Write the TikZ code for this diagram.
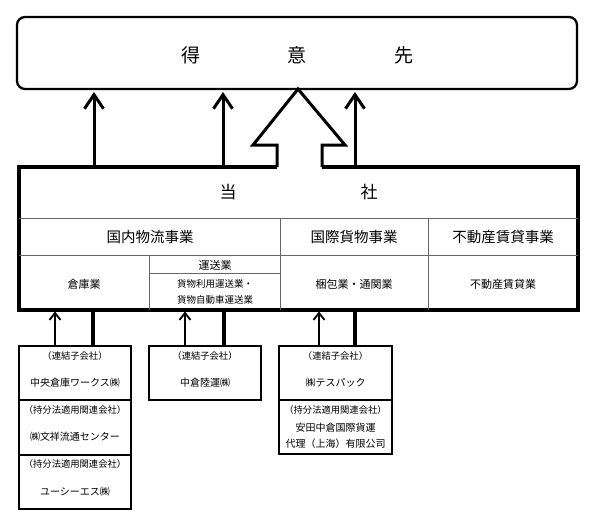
\documentclass[tikz,border=0pt]{standalone}
\usepackage{fontspec}
\setmainfont{Noto Sans CJK JP}
\usetikzlibrary{arrows.meta,calc}
\begin{document}
\begin{tikzpicture}[x=1pt,y=-1pt,
  every node/.style={inner sep=0pt, outer sep=0pt},
  topbox/.style={draw, line width=2.3pt, rounded corners=8pt},
  mainline/.style={line width=3.8pt, line join=miter},
  bigarrow/.style={line width=3pt, line join=miter},
  innerline/.style={line width=0.9pt, draw=black!60},
  uparrow/.style={line width=3pt, -{Straight Barb[length=14pt,width=19pt]}, shorten >=3pt},
  smallarrow/.style={line width=1.8pt, -{Straight Barb[length=7pt,width=11pt]}, shorten >=1.5pt},
  thickline/.style={line width=4.5pt},
  cbox/.style={draw, line width=1.2pt, minimum width=112pt},
  bigtxt/.style={font=\fontsize{19pt}{19pt}\selectfont},
  maintxt/.style={font=\fontsize{17pt}{17pt}\selectfont},
  segtxt/.style={font=\fontsize{14.5pt}{14.5pt}\selectfont},
  subtxt/.style={font=\fontsize{11pt}{11pt}\selectfont},
  smalltxt/.style={font=\fontsize{9.5pt}{9.5pt}\selectfont},
  lbltxt/.style={font=\fontsize{9.3pt}{9.3pt}\selectfont},
  nametxt/.style={font=\fontsize{10pt}{10pt}\selectfont}
]
\useasboundingbox (0,0) rectangle (597,528);

% customer box
\node[topbox, minimum width=560pt, minimum height=72pt] (cust) at (297,53) {};
\node[bigtxt] (c1) at (191,55) {得};
\node[bigtxt] (c2) at (297,55) {意};
\node[bigtxt] (c3) at (404,55) {先};

% main company box (anchor node)
\node[minimum width=559pt, minimum height=143pt] (main) at (298.5,238.5) {};
\draw[mainline] (277,167) -- (main.north west) -- (main.south west) -- (main.south east) -- (main.north east) -- (322,167);
\draw[bigarrow] (277,167) -- (277,145) -- (253,145) -- (cust.south -| 298,0) -- (345,145) -- (322,145) -- (322,167);

% up arrows to customers
\draw[uparrow] (main.north -| 94,0) -- (cust.south -| 94,0);
\draw[uparrow] (main.north -| 223,0) -- (cust.south -| 223,0);
\draw[uparrow] (main.north -| 355,0) -- (cust.south -| 355,0);

\node[maintxt] (m1) at (228,192) {当};
\node[maintxt] (m2) at (369,192) {社};

% inner grid
\draw[innerline] (19,218) -- (578,218);
\draw[innerline] (19,255) -- (578,255);
\draw[innerline] (280,218) -- (280,310);
\draw[innerline] (428.5,218) -- (428.5,310);
\draw[innerline] (149,255) -- (149,310);
\draw[innerline] (149,273) -- (280,273);

\node[segtxt] (s1) at (150,237) {国内物流事業};
\node[segtxt] (s2) at (354,237) {国際貨物事業};
\node[segtxt] (s3) at (503,237) {不動産賃貸事業};

\node[subtxt] (b1) at (84,284) {倉庫業};
\node[subtxt] (b2) at (215,265) {運送業};
\node[smalltxt] (b3) at (215,284) {貨物利用運送業・};
\node[smalltxt] (b4) at (215,300) {貨物自動車運送業};
\node[subtxt] (b5) at (354,284) {梱包業・通関業};
\node[subtxt] (b6) at (503,284) {不動産賃貸業};

% subsidiary boxes
\node[cbox, minimum height=54pt] (A1) at (75,373) {};
\node[cbox, minimum height=55pt] (A2) at (75,427.5) {};
\node[cbox, minimum height=54pt] (A3) at (75,482) {};
\node[cbox, minimum height=54pt] (B1) at (205,373) {};
\node[cbox, minimum height=54pt, minimum width=113pt] (C1) at (335.5,373) {};
\node[cbox, minimum height=54pt, minimum width=113pt] (C2) at (335.5,427) {};

\node[lbltxt] (A1a) at (75,356) {（連結子会社）};
\node[nametxt] (A1b) at (75,383) {中央倉庫ワークス㈱};
\node[lbltxt] (A2a) at (75,410) {（持分法適用関連会社）};
\node[nametxt] (A2b) at (75,437) {㈱文祥流通センター};
\node[lbltxt] (A3a) at (75,464) {（持分法適用関連会社）};
\node[nametxt] (A3b) at (75,492) {ユーシーエス㈱};
\node[lbltxt] (B1a) at (205,356) {（連結子会社）};
\node[nametxt] (B1b) at (205,383) {中倉陸運㈱};
\node[lbltxt] (C1a) at (335.5,356) {（連結子会社）};
\node[nametxt] (C1b) at (335.5,383) {㈱テスパック};
\node[lbltxt] (C2a) at (335.5,410) {（持分法適用関連会社）};
\node[nametxt] (C2b) at (335.5,428) {安田中倉国際貨運};
\node[nametxt] (C2c) at (335.5,444) {代理（上海）有限公司};

% connectors between subsidiaries and main
\draw[smallarrow] ([xshift=-20pt]A1.north) -- ([xshift=-20pt]A1.north |- main.south);
\draw[thickline] ([xshift=18pt]A1.north) -- ([xshift=18pt]A1.north |- main.south);
\draw[smallarrow] ([xshift=-20pt]B1.north) -- ([xshift=-20pt]B1.north |- main.south);
\draw[thickline] ([xshift=19pt]B1.north) -- ([xshift=19pt]B1.north |- main.south);
\draw[smallarrow] ([xshift=-16.5pt]C1.north) -- ([xshift=-16.5pt]C1.north |- main.south);
\draw[thickline] ([xshift=19.5pt]C1.north) -- ([xshift=19.5pt]C1.north |- main.south);
\end{tikzpicture}
\end{document}
